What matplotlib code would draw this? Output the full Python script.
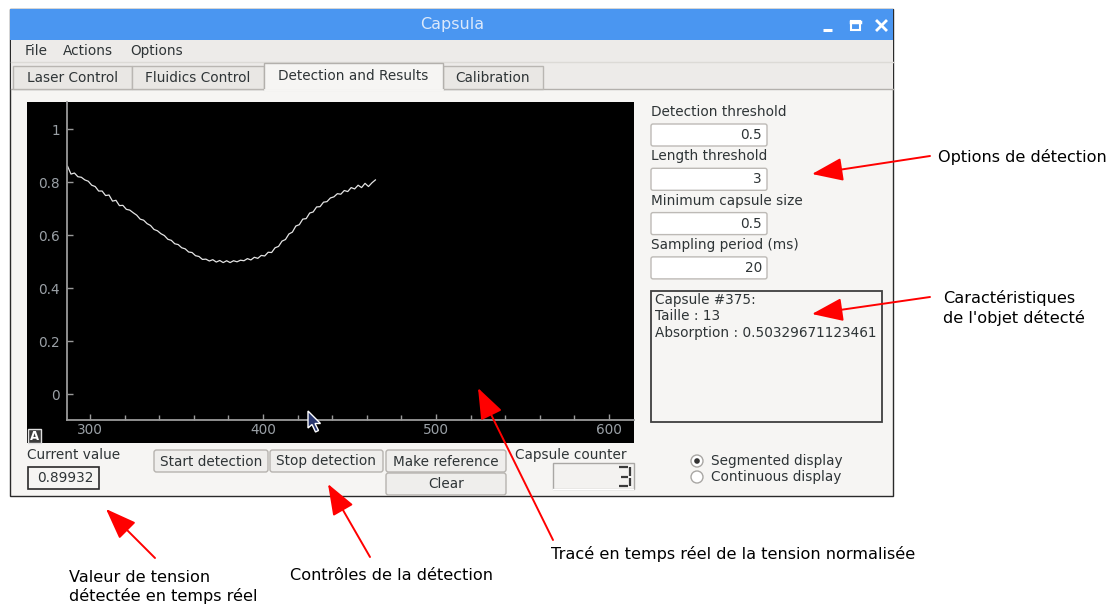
import matplotlib
matplotlib.use("Agg")
import matplotlib.pyplot as plt
from matplotlib.patches import Rectangle, FancyBboxPatch, Circle, Polygon
from matplotlib.ticker import MultipleLocator

# ---------------- data ----------------
sample_index = [287, 289, 291, 293, 295, 297, 299, 301, 303, 305,
                307, 309, 311, 313, 315, 317, 319, 321, 323, 325,
                327, 329, 331, 333, 335, 337, 339, 341, 343, 345,
                347, 349, 351, 353, 355, 357, 359, 361, 363, 365,
                367, 369, 371, 373, 375, 377, 379, 381, 383, 385,
                387, 389, 391, 393, 395, 397, 399, 401, 403, 405,
                407, 409, 411, 413, 415, 417, 419, 421, 423, 425,
                427, 429, 431, 433, 435, 437, 439, 441, 443, 445,
                447, 449, 451, 453, 455, 457, 459, 461, 463, 465]
normalized_voltage = [0.860, 0.830, 0.834, 0.820, 0.818, 0.808, 0.803, 0.788, 0.783, 0.766,
                      0.766, 0.749, 0.751, 0.728, 0.731, 0.711, 0.712, 0.697, 0.694, 0.684,
                      0.675, 0.660, 0.656, 0.643, 0.636, 0.621, 0.616, 0.605, 0.598, 0.584,
                      0.580, 0.567, 0.564, 0.552, 0.548, 0.536, 0.534, 0.522, 0.519, 0.508,
                      0.509, 0.502, 0.507, 0.498, 0.504, 0.496, 0.503, 0.496, 0.503, 0.499,
                      0.505, 0.503, 0.511, 0.506, 0.516, 0.512, 0.523, 0.521, 0.535, 0.534,
                      0.552, 0.557, 0.577, 0.583, 0.604, 0.611, 0.634, 0.639, 0.660, 0.662,
                      0.683, 0.687, 0.706, 0.707, 0.724, 0.726, 0.740, 0.744, 0.756, 0.754,
                      0.768, 0.764, 0.779, 0.774, 0.788, 0.779, 0.795, 0.783, 0.797, 0.808]
x_ticks = [300, 400, 500, 600]
x_tick_labels = ["300", "400", "500", "600"]
y_ticks = [0, 0.2, 0.4, 0.6, 0.8, 1]
y_tick_labels = ["0", "0.2", "0.4", "0.6", "0.8", "1"]

tabs = ["Laser Control", "Fluidics Control", "Detection and Results", "Calibration"]
menus = ["File", "Actions", "Options"]
option_labels = ["Detection threshold", "Length threshold", "Minimum capsule size", "Sampling period (ms)"]
option_values = ["0.5", "3", "0.5", "20"]
result_lines = ["Capsule #375:", "Taille : 13", "Absorption : 0.50329671123461"]
current_value = "0.89932"
buttons = ["Start detection", "Stop detection", "Make reference", "Clear"]
radio_labels = ["Segmented display", "Continuous display"]

# ---------------- figure ----------------
W, H = 1113, 608
FS = 9.8
GUI_TXT = "#2e3436"
fig = plt.figure(figsize=(W / 100, H / 100), dpi=100)
fig.patch.set_facecolor("white")

bg = fig.add_axes([0, 0, 1, 1])
bg.set_xlim(0, W)
bg.set_ylim(H, 0)
bg.axis("off")


def rect(ax, x0, y0, x1, y1, fc, ec="none", lw=1.0, z=1):
    ax.add_patch(Rectangle((x0, y0), x1 - x0, y1 - y0, facecolor=fc,
                           edgecolor=ec, lw=lw, zorder=z))


def rbox(ax, x0, y0, x1, y1, fc, ec, lw=1.0, z=2, r=2.5):
    ax.add_patch(FancyBboxPatch((x0, y0), x1 - x0, y1 - y0,
                                boxstyle="round,pad=0,rounding_size=%g" % r,
                                facecolor=fc, edgecolor=ec, lw=lw, zorder=z))


def txt(ax, x, y, s, ha="left", color=GUI_TXT, fs=FS, z=5, **kw):
    ax.text(x, y, s, ha=ha, va="center", color=color, fontsize=fs,
            fontfamily="DejaVu Sans", zorder=z, **kw)


# window
rect(bg, 10, 9, 893, 496, "#f6f5f3", ec="#2a2a2a", lw=1.0, z=0)
rect(bg, 10, 9, 893, 40, "#4a96f1", z=1)
txt(bg, 452, 25, "Capsula", ha="center", color="#dce9fb", fs=11.5)
# window controls
bg.plot([823, 832], [30, 30], color="white", lw=2.2, zorder=3, solid_capstyle="butt")
rect(bg, 851, 21, 860, 30, "none", ec="white", lw=1.5, z=3)
bg.plot([851, 860], [21.5, 21.5], color="white", lw=2.5, zorder=3)
bg.plot([877, 886], [21, 30], color="white", lw=2, zorder=3)
bg.plot([877, 886], [30, 21], color="white", lw=2, zorder=3)

# menu bar
rect(bg, 10.5, 40, 892.5, 62, "#edebe9", z=1)
bg.plot([10.5, 892.5], [62, 62], color="#dcdad6", lw=1, zorder=2)
for m, mx in zip(menus, [25, 63, 130]):
    txt(bg, mx, 51, m)

# tab bar
rect(bg, 10.5, 62, 892.5, 89, "#edebe9", z=1)
bg.plot([10.5, 892.5], [89, 89], color="#b3b0ac", lw=1, zorder=2)
tab_x = [(13, 132), (132, 264), (264, 443), (443, 543)]
for i, (lab, (x0, x1)) in enumerate(zip(tabs, tab_x)):
    if i == 2:
        rect(bg, x0, 63, x1, 90, "#f6f5f3", ec="#b3b0ac", z=3)
        bg.plot([x0 + 1, x1 - 1], [89.5, 89.5], color="#f6f5f3", lw=2, zorder=4)
        txt(bg, (x0 + x1) / 2, 76, lab, ha="center")
    else:
        rect(bg, x0, 66, x1, 89, "#e9e7e4", ec="#b9b6b2", z=2)
        txt(bg, (x0 + x1) / 2, 77.5, lab, ha="center")

# plot black background + autoscale "A" button
rect(bg, 27, 102, 634, 443, "black", z=2)
rect(bg, 27.5, 428.5, 41, 442.5, "#3c3c3c", ec="#e0e0e0", lw=1, z=3)
txt(bg, 34.3, 436, "A", ha="center", color="white", fs=8.5, fontweight="bold")

# bottom controls
txt(bg, 27, 455, "Current value")
rect(bg, 27.5, 466.5, 98.5, 488.5, "#f6f5f3", ec="#2a2a2a", lw=1.2, z=2)
txt(bg, 94, 478, current_value, ha="right")
btn_pos = [(154, 450, 268, 472), (270, 450, 383, 472), (386, 450, 506, 472), (386, 473, 506, 495)]
for lab, (x0, y0, x1, y1) in zip(buttons, btn_pos):
    rbox(bg, x0, y0, x1, y1, "#efeeec", "#b6b3af", lw=1, z=2)
    txt(bg, (x0 + x1) / 2, (y0 + y1) / 2 + 0.5, lab, ha="center")
txt(bg, 515, 455, "Capsule counter")
rect(bg, 552.5, 463, 633.5, 489, "#f3f2f0", ec="#a9a7a4", lw=1, z=2)
bg.plot([553, 633], [488.5, 488.5], color="white", lw=1, zorder=3)
# LCD digit "3"
for xs, ys in [([619, 628], [466.5, 466.5]), ([621, 628], [476.5, 476.5]),
               ([619, 628], [486, 486]), ([629.5, 629.5], [467, 475.5]),
               ([629.5, 629.5], [477.5, 485.5])]:
    bg.plot(xs, ys, color="#3a3a3a", lw=1.6, zorder=4, solid_capstyle="butt")

# right option panel
for i, (lab, val) in enumerate(zip(option_labels, option_values)):
    y = 112 + 44.3 * i
    txt(bg, 651, y, lab)
    rbox(bg, 651, y + 12, 767, y + 34, "white", "#bdbab6", lw=1, z=2, r=2)
    txt(bg, 762, y + 23, val, ha="right")

rect(bg, 651, 290.5, 882, 422, "#f6f5f3", ec="#3f3f3f", lw=1.3, z=2)
for i, line in enumerate(result_lines):
    txt(bg, 655, 300 + 16.5 * i, line)

for i, lab in enumerate(radio_labels):
    y = 461 + 16 * i
    bg.add_patch(Circle((697, y), 6, facecolor="white", edgecolor="#a9a7a4", lw=1, zorder=3))
    if i == 0:
        bg.add_patch(Circle((697, y), 2.8, facecolor="#333333", edgecolor="none", zorder=4))
    txt(bg, 711, y, lab)

# ---------------- the live trace ----------------
ax = fig.add_axes([67 / W, 1 - 420 / H, 567 / W, 318 / H])
ax.set_facecolor("black")
ax.plot(sample_index, normalized_voltage, color="#e4e4e4", lw=0.9)
ax.set_xlim(286.7, 614.5)
ax.set_ylim(-0.098, 1.102)
for s in ["top", "right"]:
    ax.spines[s].set_visible(False)
for s in ["left", "bottom"]:
    ax.spines[s].set_color("#9a9a9a")
    ax.spines[s].set_linewidth(1.3)
ax.set_xticks(x_ticks)
ax.set_xticklabels(x_tick_labels)
ax.set_yticks(y_ticks)
ax.set_yticklabels(y_tick_labels)
ax.xaxis.set_minor_locator(MultipleLocator(20))
ax.tick_params(axis="both", which="major", direction="in", length=4.5, width=1,
               color="#9a9a9a", labelcolor="#9aa0a6", labelsize=FS)
ax.tick_params(axis="x", which="minor", direction="in", length=3.5, width=1, color="#9a9a9a")
ax.tick_params(axis="y", pad=5)
ax.tick_params(axis="x", pad=2)

# ---------------- overlay: cursor and annotations ----------------
ov = fig.add_axes([0, 0, 1, 1])
ov.set_xlim(0, W)
ov.set_ylim(H, 0)
ov.axis("off")
ov.patch.set_alpha(0)

cursor = [(308, 411), (308, 428), (312, 424.5), (315.5, 432), (318.5, 430.5),
          (315, 423.5), (320.5, 423.5)]
ov.add_patch(Polygon(cursor, closed=True, facecolor="#28366e", edgecolor="white", lw=1, zorder=5))

arrows = [((930, 156), (812, 174)),
          ((930, 297), (812, 314)),
          ((553, 540), (478, 388)),
          ((155, 558), (106, 509)),
          ((370, 557), (328, 484))]
for tail, head in arrows:
    ov.annotate("", xy=head, xytext=tail,
                arrowprops=dict(arrowstyle="-|>,head_length=1.6,head_width=0.6",
                                color="red", lw=1.4, shrinkA=0, shrinkB=0,
                                mutation_scale=12))

ANN = 11.6
txt(ov, 938, 157, "Options de détection", color="black", fs=ANN)
txt(ov, 943, 298, "Caractéristiques", color="black", fs=ANN)
txt(ov, 943, 318, "de l'objet détecté", color="black", fs=ANN)
txt(ov, 69, 577, "Valeur de tension", color="black", fs=ANN)
txt(ov, 69, 596, "détectée en temps réel", color="black", fs=ANN)
txt(ov, 290, 575, "Contrôles de la détection", color="black", fs=ANN)
txt(ov, 551, 554, "Tracé en temps réel de la tension normalisée", color="black", fs=ANN)

fig.savefig("out.png", dpi=100)
